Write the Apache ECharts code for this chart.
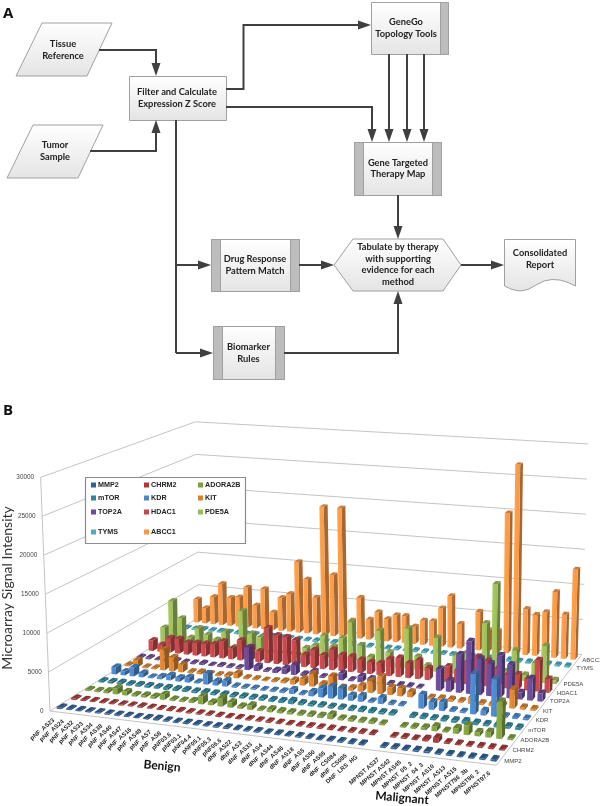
<!DOCTYPE html>
<html>
<head>
<meta charset="utf-8">
<title>Therapy workflow and microarray signal</title>
<style>
  html, body { margin: 0; padding: 0; background: #fff; }
  #main { width: 600px; height: 806px; }
</style>
<script src="https://cdn.jsdelivr.net/npm/echarts@6/dist/echarts.min.js"></script>
</head>
<body>
<div id="main"></div>
<script>
// samples along the floor of the 3d chart ("" is the gap between benign and malignant)
const samples = ["pNF_AS23", "pNF_AS24", "pNF_AS32", "pNF_AS33", "pNF_AS34", "pNF_AS38", "pNF_AS40", "pNF_AS47", "pNF_AS16", "pNF_AS48", "pNF_AS7", "pNF_AS8", "pNF03.6", "pNF03.1", "pNF04.4", "pNF05.1", "pNF05.3", "pNF06.6", "dNF_AS22", "dNF_AS3", "dNF_AS33", "dNF_AS4", "dNF_AS44", "dNF_AS46", "dNF_AS18", "dNF_AS5", "dNF_AS50", "dNF_AS55", "dNF_CS084", "dNF_CS085", "DNF_LRS_HG", "", "MPNST AS37", "MPNST AS42", "MPNST AS45", "MPNST_05_2", "MPNST_04_3", "MPNST_AS10", "MPNST_AS13", "MPNST_AS15", "MPNST786_3b", "MPNST86_2", "MPNST97.6"];
// front to back, the empty name is an empty row in the chart
const genes = ["MMP2", "CHRM2", "ADORA2B", "mTOR", "KDR", "KIT", "TOP2A", "HDAC1", "PDE5A", "", "TYMS", "ABCC1"];
const legendGenes = ["MMP2", "CHRM2", "ADORA2B", "mTOR", "KDR", "KIT", "TOP2A", "HDAC1", "PDE5A", "TYMS", "ABCC1"];
const yTicks = [0, 5000, 10000, 15000, 20000, 25000, 30000];

const mmp2 = [200, 180, 170, 160, 170, 150, 160, 170, 150, 180, 220, 160, 150, 170, 160, 150, 170, 180, 160, 150, 170, 160, 180, 170, 160, 170, 150, 160, 170, 160, 180, null, 180, 200, 170, 190, 220, 180, 170, 160, 170, 180, 190];
const chrm2 = [200, 170, 160, 150, 170, 160, 150, 170, 160, 150, 170, 180, 160, 150, 170, 160, 150, 170, 160, 150, 170, 160, 150, 170, 160, 170, 180, 150, 170, 160, 170, null, 170, 180, 160, 300, 600, 170, 160, 150, 170, 180, 160];
const adora2b = [200, 200, 300, 800, 500, 250, 300, 300, 700, 200, 200, 300, 1000, 400, 1100, 700, 300, 600, 200, 400, 300, 300, 250, 300, 300, 600, 250, 300, 250, 300, 200, null, 200, 250, 300, 600, 200, 700, 1200, 500, 700, 4600, 200];
const mtor = [250, 280, 300, 260, 280, 300, 270, 300, 280, 320, 260, 300, 280, 300, 260, 300, 280, 320, 280, 300, 450, 300, 280, 300, 260, 300, 280, 320, 300, 280, 300, null, 280, 300, 260, 320, 300, 350, 300, 280, 320, 300, 300];
const kdr = [1000, 500, 1200, 600, 200, 400, 700, 500, 700, 200, 1500, 600, 800, 200, 200, 200, 150, 200, 250, 600, 200, 600, 1200, 1600, 1500, 700, 800, 200, 800, 200, 200, null, 1800, 1000, 1100, 250, 200, 5200, 600, 4800, 200, 250, 200];
const kit = [200, 1000, 200, 200, 2900, 1900, 1000, 200, 300, 200, 200, 300, 700, 200, 200, 150, 200, 300, 600, 900, 1700, 500, 1700, 300, 400, 800, 1600, 2300, 1000, 1000, 700, null, 250, 300, 300, 250, 800, 250, 300, 300, 2500, 300, 250];
const top2a = [200, 250, 150, 200, 250, 150, 200, 300, 150, 250, 200, 200, 3100, 700, 200, 400, 800, 1400, 300, 800, 200, 300, 900, 200, 800, 600, 200, 250, 200, 200, 150, null, 2900, 1500, 5100, 7000, 4800, 4300, 5500, 4400, 900, 2900, 1100];
const hdac1 = [1500, 1000, 2100, 2100, 1700, 1800, 1800, 1900, 2400, 1500, 2800, 2000, 1500, 4900, 4000, 3900, 3600, 1700, 2500, 1900, 2800, 2200, 2100, 1800, 1600, 1600, 2300, 2600, 2000, 2500, 1600, null, 2100, 1700, 3000, 3800, 3400, 2500, 1800, 2000, 1500, 4200, 1800];
const pde5a = [2300, 6300, 3900, 1200, 2700, 1900, 1300, 2600, 500, 5800, 2700, 2300, 300, 300, 300, 300, 1400, 1900, 3400, 2000, 3300, 5700, 2600, 1100, 4900, 2000, 600, 5600, 1800, 700, 4700, null, 2500, 2900, 1500, 7300, 12800, 1000, 4000, 800, 2500, 5000, 500];
const emptyRow = [];
const tyms = [250, 220, 280, 240, 260, 220, 250, 230, 270, 240, 260, 220, 240, 260, 230, 250, 220, 270, 240, 260, 230, 250, 240, 220, 260, 240, 250, 230, 260, 240, 230, null, 240, 260, 250, 230, 260, 240, 250, 230, 260, 240, 250];
const abcc1 = [3500, 2300, 4100, 6200, 4200, 4400, 6000, 3400, 6000, 2600, 4900, 5600, 10500, 8000, 5400, 19000, 9000, 19000, 2500, 6000, 2900, 4100, 3200, 3900, 3900, 2500, 3500, 3500, 5500, 7400, 3500, null, 5500, 3000, 3000, 20000, 27000, 6500, 5800, 6300, 9300, 6200, 12700];

const geneValues = [mmp2, chrm2, adora2b, mtor, kdr, kit, top2a, hdac1, pde5a, emptyRow, tyms, abcc1];
const geneColors = ["#2f6299", "#a83a38", "#7f9f3e", "#31859c", "#4a86c8", "#d9822e", "#6a4a94", "#c0474a", "#9bbb59", "#4bacc6", "#f79646"];
const colorByGene = {};
legendGenes.forEach((g, i) => { colorByGene[g] = geneColors[i]; });

// hidden grid: the axes give the sample slot and the height, then these get projected
const GRID = { left: 0, top: 0, width: 430, height: 300 };

// cell centres of the four corner bars on the floor and on the 30000 plane
const floorMap = makeHomography([[62, 707], [495, 759], [574, 658], [198, 621]]);
const topMap = makeHomography([[53, 475], [502, 509], [580, 446], [194, 424]]);

function makeHomography(c) {
  const [x0, y0] = c[0], [x1, y1] = c[1], [x2, y2] = c[2], [x3, y3] = c[3];
  const dx1 = x1 - x2, dx2 = x3 - x2, sx = x0 - x1 + x2 - x3;
  const dy1 = y1 - y2, dy2 = y3 - y2, sy = y0 - y1 + y2 - y3;
  const det = dx1 * dy2 - dx2 * dy1;
  const g = (sx * dy2 - dx2 * sy) / det;
  const h = (dx1 * sy - sx * dy1) / det;
  const a = x1 - x0 + g * x1, b = x3 - x0 + h * x3;
  const d = y1 - y0 + g * y1, e = y3 - y0 + h * y3;
  return (u, v) => {
    const w = g * u + h * v + 1;
    return [(a * u + b * v + x0) / w, (d * u + e * v + y0) / w];
  };
}

// slot: sample position, row: gene position, z: 0..1 of the value axis
function project(slot, row, z) {
  const u = slot / (samples.length - 1);
  const v = row / (genes.length - 1);
  const f = floorMap(u, v);
  const t = topMap(u, v);
  return [f[0] + (t[0] - f[0]) * z, f[1] + (t[1] - f[1]) * z];
}

function axisPos(api, i, value) {
  const pt = api.coord([i, value]);
  const band = api.size([1, 0])[0];
  return {
    slot: (pt[0] - GRID.left) / band - 0.5,
    z: (GRID.top + GRID.height - pt[1]) / GRID.height,
  };
}

function shade(hex, k) {
  const rgb = [1, 3, 5].map((i) => Math.min(255, Math.round(parseInt(hex.substr(i, 2), 16) * k)));
  return `rgb(${rgb.join(",")})`;
}

function renderBar(row, color) {
  return function (params, api) {
    const value = api.value(1);
    if (value == null || isNaN(value)) return;
    const pos = axisPos(api, api.value(0), value);
    const hw = 0.25, hd = 0.21;
    const s0 = pos.slot - hw, s1 = pos.slot + hw, r0 = row - hd, r1 = row + hd;
    const a = project(s0, r0, 0), b = project(s1, r0, 0), c = project(s1, r1, 0);
    const at = project(s0, r0, pos.z), bt = project(s1, r0, pos.z);
    const ct = project(s1, r1, pos.z), dt = project(s0, r1, pos.z);
    return {
      type: "group",
      children: [
        { type: "polygon", shape: { points: [b, c, ct, bt] }, style: { fill: shade(color, 0.68) } },
        {
          type: "polygon",
          shape: { points: [a, b, bt, at] },
          style: {
            fill: new echarts.graphic.LinearGradient(0, 0, 1, 0, [
              { offset: 0, color: shade(color, 1.1) },
              { offset: 1, color: color },
            ]),
          },
        },
        { type: "polygon", shape: { points: [at, bt, ct, dt] }, style: { fill: shade(color, 0.82) } },
      ],
    };
  };
}

// walls and the floor edges
const lastSlot = samples.length - 1 + 0.5;
const lastRow = genes.length - 1 + 0.5;
function renderWall(params, api) {
  const value = api.value(1);
  const z = axisPos(api, 0, value).z;
  const fl = project(-0.5, -0.5, z), bl = project(-0.5, lastRow, z), br = project(lastSlot, lastRow, z);
  const line = { stroke: "#c4c4c4", lineWidth: 1, fill: null };
  const children = [
    { type: "polyline", shape: { points: [fl, bl, br] }, style: line },
    {
      type: "text",
      style: {
        text: String(value), x: fl[0] - 6.5, y: fl[1],
        align: "right", verticalAlign: "middle",
        font: '6.4px "Liberation Sans"', fill: "#444",
      },
    },
  ];
  if (value === 0) {
    const fr = project(lastSlot, -0.5, 0);
    const flTop = project(-0.5, -0.5, 1);
    children.push({ type: "polyline", shape: { points: [fl, fr, br] }, style: line });
    children.push({ type: "line", shape: { x1: fl[0], y1: fl[1], x2: flTop[0], y2: flTop[1] }, style: line });
  }
  return { type: "group", children };
}

function renderSampleLabel(params, api) {
  const i = api.value(0);
  const name = samples[i];
  if (!name) return;
  const pos = axisPos(api, i, 0);
  const p = project(pos.slot, -0.5, 0);
  return {
    type: "text",
    x: p[0] - 1,
    y: p[1] + 8,
    rotation: Math.PI / 4.4,
    style: {
      text: name, x: 0, y: 0, align: "right", verticalAlign: "middle",
      font: 'bold 6px "Liberation Sans"', fill: "#222",
    },
  };
}

function renderGeneLabel(params, api) {
  const row = params.dataIndex;
  if (!genes[row]) return;
  const p = project(lastSlot, row, 0);
  return {
    type: "text",
    style: {
      text: genes[row], x: p[0] + 3.5, y: p[1] + 1.5, align: "left", verticalAlign: "middle",
      font: '6px "Liberation Sans"', fill: "#444",
    },
  };
}

// --- flowchart of panel A ---
const INK = "#404040";
const EDGE = "#a0a0a0";
const boxFill = () => new echarts.graphic.LinearGradient(0, 0, 0, 1, [
  { offset: 0, color: "#ffffff" },
  { offset: 1, color: "#e4e4e4" },
]);
const flowFont = 'bold 9.3px Lato';

function flowText(lines, x, y, step) {
  return lines.map((t, i) => ({
    type: "text",
    style: {
      text: t, x: x, y: y + i * (step || 11.7), align: "center", verticalAlign: "middle",
      font: flowFont, fill: "#222",
    },
  }));
}
function poly(points) {
  return { type: "polygon", shape: { points }, style: { fill: boxFill(), stroke: EDGE, lineWidth: 1 } };
}
function strip(x, y, w, h) {
  return { type: "rect", shape: { x, y, width: w, height: h }, style: { fill: "#bdbdbd", stroke: EDGE, lineWidth: 1 } };
}
function box(x, y, w, h) {
  return { type: "rect", shape: { x, y, width: w, height: h }, style: { fill: boxFill(), stroke: EDGE, lineWidth: 1 } };
}
function wire(points) {
  return { type: "polyline", shape: { points }, style: { stroke: INK, lineWidth: 2, fill: null } };
}
// line that ends in an arrow head
function arrow(points) {
  const end = points[points.length - 1], prev = points[points.length - 2];
  const len = Math.hypot(end[0] - prev[0], end[1] - prev[1]);
  const ux = (end[0] - prev[0]) / len, uy = (end[1] - prev[1]) / len;
  const base = [end[0] - ux * 13, end[1] - uy * 13];
  const head = [end, [base[0] - uy * 4.5, base[1] + ux * 4.5], [base[0] + uy * 4.5, base[1] - ux * 4.5]];
  const shaft = points.slice(0, -1).concat([base]);
  return [wire(shaft), { type: "polygon", shape: { points: head }, style: { fill: INK } }];
}

// report shape with the wavy foot
const reportOutline = [[504.5, 239.5], [575.5, 239.5], [575.5, 286], [568, 282.5], [560, 280], [552, 279.5], [544, 281], [536, 285], [528, 289.5], [520, 291], [512, 289.5], [504.5, 286]];

const flowElements = [].concat(
  [poly([[42, 23], [112, 23], [87, 76], [16, 76]])],
  flowText(["Tissue", "Reference"], 63, 44),
  [poly([[33, 125], [103, 125], [78, 178], [7, 178]])],
  flowText(["Tumor", "Sample"], 55, 145),
  [box(129.5, 76.5, 97, 44)],
  flowText(["Filter and Calculate", "Expression Z Score"], 177, 92),
  [box(371.5, 2.5, 77, 52), strip(440.5, 2.5, 8, 52)],
  flowText(["GeneGo", "Topology Tools"], 406, 22),
  [box(354.5, 142.5, 87, 53), strip(354.5, 142.5, 9, 53), strip(432.5, 142.5, 9, 53)],
  flowText(["Gene Targeted", "Therapy Map"], 398, 162.5),
  [box(211.5, 239.5, 88, 52), strip(211.5, 239.5, 9, 52), strip(290.5, 239.5, 9, 52)],
  flowText(["Drug Response", "Pattern Match"], 255, 259),
  [box(213.5, 326.5, 71, 53), strip(213.5, 326.5, 9, 53), strip(275.5, 326.5, 9, 53)],
  flowText(["Biomarker", "Rules"], 248.5, 347),
  [poly([[334, 265], [353, 239], [443, 239], [461, 265], [443, 291], [353, 291]])],
  flowText(["Tabulate by therapy", "with supporting", "evidence for each", "method"], 398, 247),
  [poly(reportOutline)],
  flowText(["Consolidated", "Report"], 540, 253),
  arrow([[99, 50], [156, 50], [156, 76]]),
  arrow([[90, 151], [156, 151], [156, 120]]),
  arrow([[226, 89], [243.5, 89], [243.5, 25], [371, 25]]),
  arrow([[226, 107], [372, 107], [372, 142]]),
  arrow([[389, 54], [389, 142]]),
  arrow([[407, 54], [407, 142]]),
  arrow([[424, 54], [424, 142]]),
  arrow([[398, 195], [398, 239]]),
  [wire([[176, 120], [176, 353]])],
  arrow([[176, 265], [211, 265]]),
  arrow([[176, 353], [213, 353]]),
  arrow([[299, 265], [334, 265]]),
  arrow([[284, 353], [398, 353], [398, 291]]),
  arrow([[461, 265], [504, 265]])
);

// --- legend and the loose text of panel B ---
const legendRows = [485, 498, 512, 532];
const legendCols = [91, 144, 198];
const legendElements = [
  {
    type: "rect",
    shape: { x: 85.5, y: 477.5, width: 160, height: 66 },
    style: { fill: "#fff", stroke: "#8c8c8c", lineWidth: 1.2 },
  },
];
legendGenes.forEach((g, i) => {
  const x = legendCols[i % 3], y = legendRows[Math.floor(i / 3)];
  legendElements.push({
    type: "rect",
    shape: { x: x, y: y - 2.5, width: 5, height: 5 },
    style: { fill: colorByGene[g] },
  });
  legendElements.push({
    type: "text",
    style: {
      text: g, x: x + 7, y: y, align: "left", verticalAlign: "middle",
      font: 'bold 7.2px "Liberation Sans"', fill: "#222",
    },
  });
});
legendElements.forEach((el) => { el.z = 100; });

const looseText = [
  { text: "A", x: 3, y: 14, font: 'bold 15px "Open Sans"' },
  { text: "B", x: 3, y: 411, font: 'bold 15px "Open Sans"' },
].map((t) => ({ type: "text", style: { ...t, align: "left", verticalAlign: "middle", fill: "#111" } }));

const turnedText = [
  { type: "text", x: 7, y: 588, rotation: Math.PI / 2, style: { text: "Microarray Signal Intensity", x: 0, y: 0, align: "center", verticalAlign: "middle", font: "14px Lato", fill: "#333" } },
  { type: "text", x: 162, y: 766, rotation: -0.09, style: { text: "Benign", x: 0, y: 0, align: "center", verticalAlign: "middle", font: "bold 12px Lato", fill: "#111" } },
  { type: "text", x: 402, y: 798, rotation: -0.09, style: { text: "Malignant", x: 0, y: 0, align: "center", verticalAlign: "middle", font: "bold 12px Lato", fill: "#111" } },
];

// --- series, back row first so the front rows paint over it ---
const series = [];
series.push({
  type: "custom",
  silent: true,
  renderItem: renderWall,
  data: yTicks.map((t) => [0, t]),
  animation: false,
  clip: false,
});
for (let row = genes.length - 1; row >= 0; row--) {
  if (!genes[row]) continue;
  series.push({
    name: genes[row],
    type: "custom",
    silent: true,
    renderItem: renderBar(row, colorByGene[genes[row]]),
    data: geneValues[row].map((v, i) => [i, v == null ? NaN : v]),
    animation: false,
    clip: false,
  });
}
series.push({
  type: "custom",
  silent: true,
  renderItem: renderSampleLabel,
  data: samples.map((s, i) => [i, 0]),
  animation: false,
  clip: false,
});
series.push({
  type: "custom",
  silent: true,
  renderItem: renderGeneLabel,
  data: genes.map((g, i) => [0, 0]),
  animation: false,
  clip: false,
});

const chart = echarts.init(document.getElementById("main"), null, { renderer: "canvas" });
chart.setOption({
  backgroundColor: "#fff",
  animation: false,
  grid: { left: GRID.left, top: GRID.top, width: GRID.width, height: GRID.height, show: false },
  xAxis: { type: "category", data: samples, show: false },
  yAxis: { type: "value", min: 0, max: 30000, interval: 5000, show: false },
  graphic: flowElements.concat(legendElements, looseText, turnedText),
  series: series,
});
</script>
</body>
</html>
